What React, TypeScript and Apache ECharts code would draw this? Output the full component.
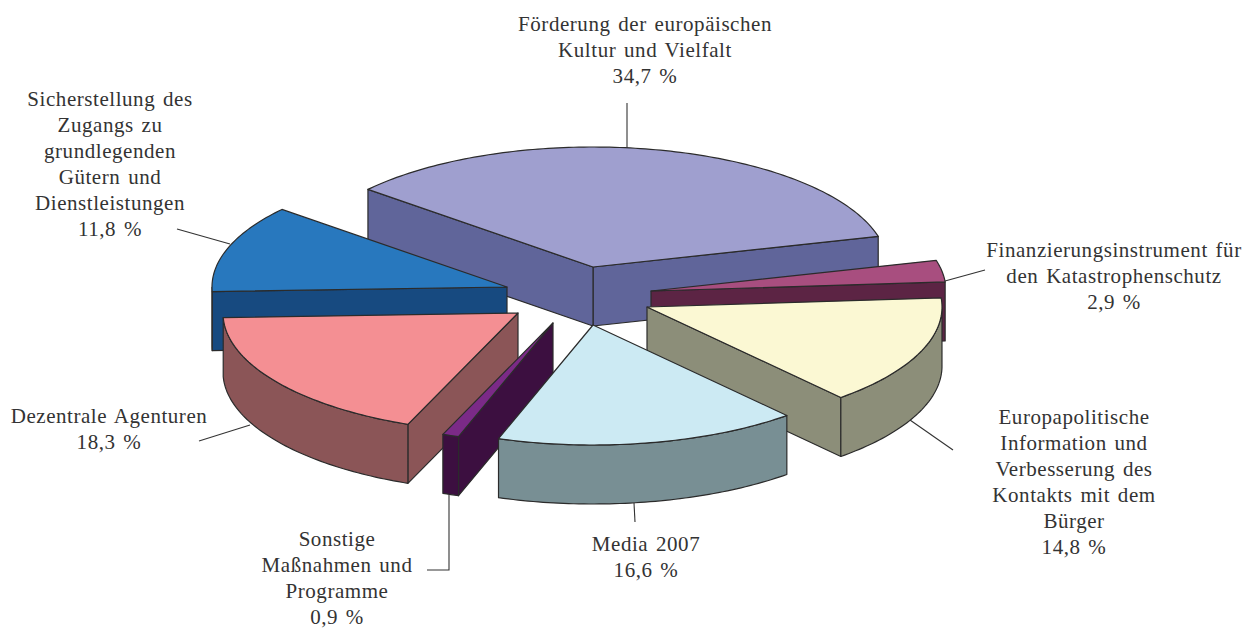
import React, { useEffect, useRef } from "react";
import * as echarts from "echarts";

// Slices, counter-clockwise starting from the large back slice
const categories = [
  "Förderung der europäischen\nKultur und Vielfalt",
  "Sicherstellung des\nZugangs zu\ngrundlegenden\nGütern und\nDienstleistungen",
  "Dezentrale Agenturen",
  "Sonstige\nMaßnahmen und\nProgramme",
  "Media 2007",
  "Europapolitische\nInformation und\nVerbesserung des\nKontakts mit dem\nBürger",
  "Finanzierungsinstrument für\nden Katastrophenschutz",
];
const shares = [34.7, 11.8, 18.3, 0.9, 16.6, 14.8, 2.9];
const topColors = ["#9F9FCF", "#2878BE", "#F48F93", "#7B2A87", "#CCEAF3", "#FBF8D3", "#A84E7F"];
const sideColors = ["#60659A", "#174A80", "#8B5557", "#3C0F40", "#788F94", "#8C8E79", "#5C2444"];
const explodeX = [0, -86, -75, -40, 0, 54, 58];
const explodeY = [0, 20, 46, 56, 58, 40, 24];
const paintOrder = [0, 1, 6, 5, 2, 3, 4];

const labelX = [645, 110, 109, 337, 646, 1074, 1114];
const labelY = [11, 86, 403, 526, 531, 404, 237];
const leaders = [
  [[627, 148], [627, 103]],
  [[177, 229], [230, 244]],
  [[250, 425], [199, 441]],
  [[449, 495], [449, 570], [427, 570]],
  [[634, 503], [635, 522]],
  [[910, 420], [953, 450]],
  [[945, 281], [985, 270]],
];

const CX = 593;
const CY = 267;
const RX = 295;
const RY = 120;
const DEPTH = 59;
const START_DEG = 14.8;
const FONT = '"Liberation Serif", serif';
const INK = "#333333";

const sum = shares.reduce((a, b) => a + b, 0);

function spanOf(i: number, value: number): [number, number] {
  let before = 0;
  for (let k = 0; k < i; k++) before += shares[k];
  const a0 = START_DEG + (before / sum) * 360;
  return [a0, a0 + (value / sum) * 360];
}

function renderSlice(_params: any, api: any) {
  const i = api.value(0);
  const [a0, a1] = spanOf(i, api.value(1));
  const ox = CX + explodeX[i];
  const oy = CY + explodeY[i];
  const pt = (deg: number): number[] => {
    const r = (deg * Math.PI) / 180;
    return [ox + RX * Math.cos(r), oy - RY * Math.sin(r)];
  };
  const down = (p: number[]) => [p[0], p[1] + DEPTH];
  const stroke = { stroke: "#2b2b2b", lineWidth: 1.2, lineJoin: "round" };
  const apex = [ox, oy];
  const arc: number[][] = [];
  const steps = Math.max(2, Math.ceil(a1 - a0));
  for (let s = 0; s <= steps; s++) arc.push(pt(a0 + ((a1 - a0) * s) / steps));

  const children: any[] = [];
  const wall = (p: number[]) => ({
    type: "polygon",
    shape: { points: [apex, p, down(p), down(apex)] },
    style: { fill: sideColors[i], ...stroke },
  });
  // a radial wall shows only if it faces the viewer
  if (Math.cos((a0 * Math.PI) / 180) > 0) children.push(wall(arc[0]));
  if (Math.cos((a1 * Math.PI) / 180) < 0) children.push(wall(arc[arc.length - 1]));
  // outer rim: only the front half of the ellipse can be seen
  const rim: number[][] = [];
  for (let s = 0; s <= steps; s++) {
    const d = a0 + ((a1 - a0) * s) / steps;
    const m = ((d % 360) + 360) % 360;
    if (m >= 180) rim.push(arc[s]);
  }
  if (rim.length > 1) {
    children.push({
      type: "polygon",
      shape: { points: [...rim, ...rim.slice().reverse().map(down)] },
      style: { fill: sideColors[i], ...stroke },
    });
  }
  children.push({
    type: "polygon",
    shape: { points: [apex, ...arc] },
    style: { fill: topColors[i], ...stroke },
  });
  return { type: "group", children };
}

const pct = (v: number) => v.toFixed(1).replace(".", ",") + " %";

export default function App() {
  const ref = useRef<HTMLDivElement>(null);
  useEffect(() => {
    document.body.style.margin = "0";
    const chart = echarts.init(ref.current!, undefined, { renderer: "svg" });
    chart.setOption({
      animation: false,
      backgroundColor: "#ffffff",
      series: [
        {
          type: "custom",
          coordinateSystem: "none",
          silent: true,
          renderItem: renderSlice,
          data: paintOrder.map((i) => [i, shares[i]]),
        },
      ],
      graphic: [
        ...leaders.map((points) => ({
          type: "polyline",
          silent: true,
          z: 5,
          shape: { points },
          style: { stroke: "#333333", lineWidth: 1.1, fill: "none" },
        })),
        ...categories.map((name, i) => ({
          type: "text",
          silent: true,
          z: 6,
          x: labelX[i],
          y: labelY[i],
          style: {
            text: name + "\n" + pct(shares[i]),
            fill: INK,
            font: `21px ${FONT}`,
            lineHeight: 26,
            align: "center",
            verticalAlign: "top",
          },
        })),
      ],
    });
    return () => chart.dispose();
  }, []);
  return (
    <>
      <style>{"#root svg text { letter-spacing: 0.55px; word-spacing: 2px; }"}</style>
      <div ref={ref} style={{ width: 1246, height: 630 }} />
    </>
  );
}
